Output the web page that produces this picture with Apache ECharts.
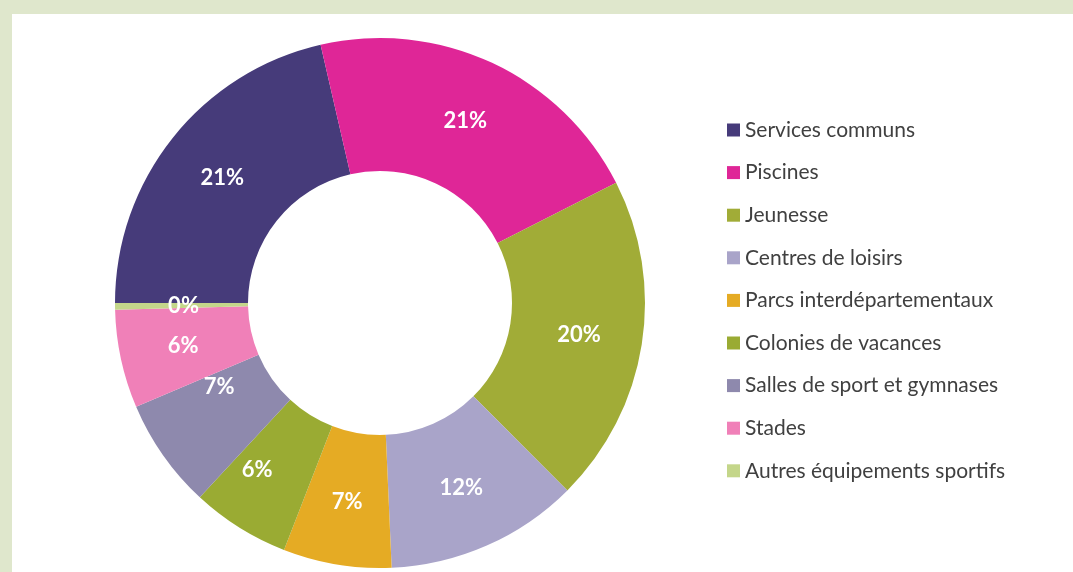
<!DOCTYPE html>
<html>
<head>
<meta charset="utf-8">
<script src="https://cdn.jsdelivr.net/npm/echarts@6/dist/echarts.min.js"></script>
<style>
html,body{margin:0;padding:0;background:#dfe7cc;}
#chart{width:1073px;height:572px;}
</style>
</head>
<body>
<div id="chart"></div>
<script>
var categories = ['Services communs','Piscines','Jeunesse','Centres de loisirs','Parcs interdépartementaux','Colonies de vacances','Salles de sport et gymnases','Stades','Autres équipements sportifs'];
var values = [21.4, 21.1, 20.0, 11.8, 6.6, 6.0, 6.7, 6.0, 0.4];
var colors = ['#463b7a','#df2697','#a1ac37','#a9a4c9','#e5ab24','#9aab33','#8e89ad','#f080b8','#c4d68a'];

var chart = echarts.init(document.getElementById('chart'));
var labelOffsets = {5:[-16,-4], 6:[4,-32], 8:[5,0]};
var data = categories.map(function(c,i){
  var d = {name:c, value:values[i], itemStyle:{color:colors[i]}};
  if (labelOffsets[i]) d.label = {offset:labelOffsets[i]};
  return d;
});
chart.setOption({
  backgroundColor:'#dfe7cc',
  animation:false,
  graphic:[{type:'rect', shape:{x:12,y:14,width:1061,height:558}, style:{fill:'#ffffff'}, z:-10}],
  legend:{
    orient:'vertical', left:727, top:118, padding:0,
    itemWidth:13, itemHeight:13, itemGap:18.6, itemStyle:{borderWidth:0},
    icon:'rect',
    textStyle:{fontFamily:'Lato', fontSize:21, color:'#404040', lineHeight:24},
    data:categories
  },
  series:[{
    type:'pie',
    center:[380,303],
    radius:[132,265],
    startAngle:180,
    clockwise:true,
    avoidLabelOverlap:false,
    label:{
      show:true, position:'inside', color:'#ffffff',
      fontFamily:'Lato', fontWeight:'bold', fontSize:22,
      formatter:function(p){return Math.round(p.value)+'%';}
    },
    labelLine:{show:false},
    emphasis:{disabled:true},
    data:data
  }]
});
</script>
</body>
</html>
